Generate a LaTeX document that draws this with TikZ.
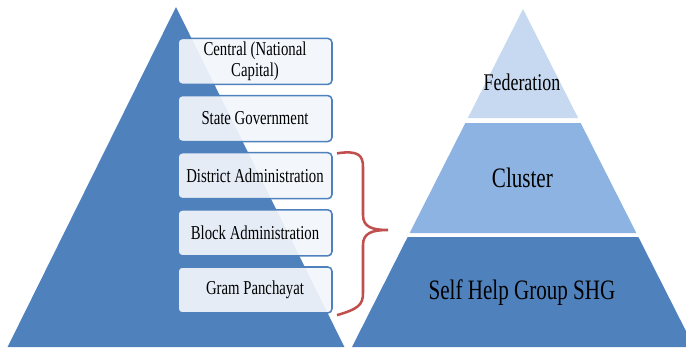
\documentclass[tikz,border=0pt]{standalone}
\usepackage{fontspec}
\setmainfont{Liberation Serif}[FakeStretch=0.75]
\usetikzlibrary{positioning}
\definecolor{shgblue}{HTML}{4F81BD}
\definecolor{clusterblue}{HTML}{8DB3E2}
\definecolor{fedblue}{HTML}{C6D9F1}
\definecolor{tierfill}{HTML}{F2F6FB}
\definecolor{bracered}{HTML}{C0504D}
\tikzset{tier/.style={draw=shgblue,fill=tierfill,fill opacity=0.92,text opacity=1,line width=1.1pt,rounded corners=3pt,minimum width=3.85cm,minimum height=1.15cm,align=center,inner sep=1pt,font=\fontsize{14}{14.5}\selectfont}}
\tikzset{layer/.style={draw=none,inner sep=0pt,align=center}}

\begin{document}
\begin{tikzpicture}
\useasboundingbox (0,0) rectangle (17.15,8.675);

% government side
\fill[shgblue] (0.19,0) -- (4.4,8.5) -- (8.61,0) -- cycle;
\node[tier] (central) at (6.375,7.14) {Central (National\\Capital)};
\node[tier,below=0.24cm of central] (state) {State Government};
\node[tier,below=0.24cm of state] (district) {District Administration};
\node[tier,below=0.24cm of district] (block) {Block Administration};
\node[tier,below=0.24cm of block] (gram) {Gram Panchayat};

% brace over the lower three tiers
\coordinate (btop) at ([xshift=3pt,yshift=-1pt]district.north east);
\coordinate (bbot) at ([xshift=3pt,yshift=-1pt]gram.south east);
\draw[bracered,line width=1.8pt] (btop) .. controls (8.95,4.92) and (9.075,4.8) .. (9.075,4.5)
  -- (9.075,3.3) .. controls (9.075,3.0) and (9.3,2.925) .. (9.7,2.925)
  .. controls (9.3,2.925) and (9.075,2.85) .. (9.075,2.55)
  -- (9.075,1.35) .. controls (9.075,1.05) and (8.95,0.95) .. (bbot);

% SHG pyramid
\fill[fedblue] (13.075,8.45) -- (14.454,5.725) -- (11.696,5.725) -- cycle;
\fill[clusterblue] (11.633,5.6) -- (14.517,5.6) -- (15.909,2.85) -- (10.241,2.85) -- cycle;
\fill[shgblue] (10.191,2.75) -- (15.959,2.75) -- (17.351,0) -- (8.8,0) -- cycle;
\node[layer,font=\fontsize{17}{18}\selectfont] (fed) at (13.05,6.62) {Federation};
\node[layer,font=\fontsize{20}{21}\selectfont] (cluster) at (13.06,4.22) {Cluster};
\node[layer,font=\fontsize{20}{21}\selectfont] (shg) at (13.05,1.35) {Self Help Group SHG};
\end{tikzpicture}
\end{document}
